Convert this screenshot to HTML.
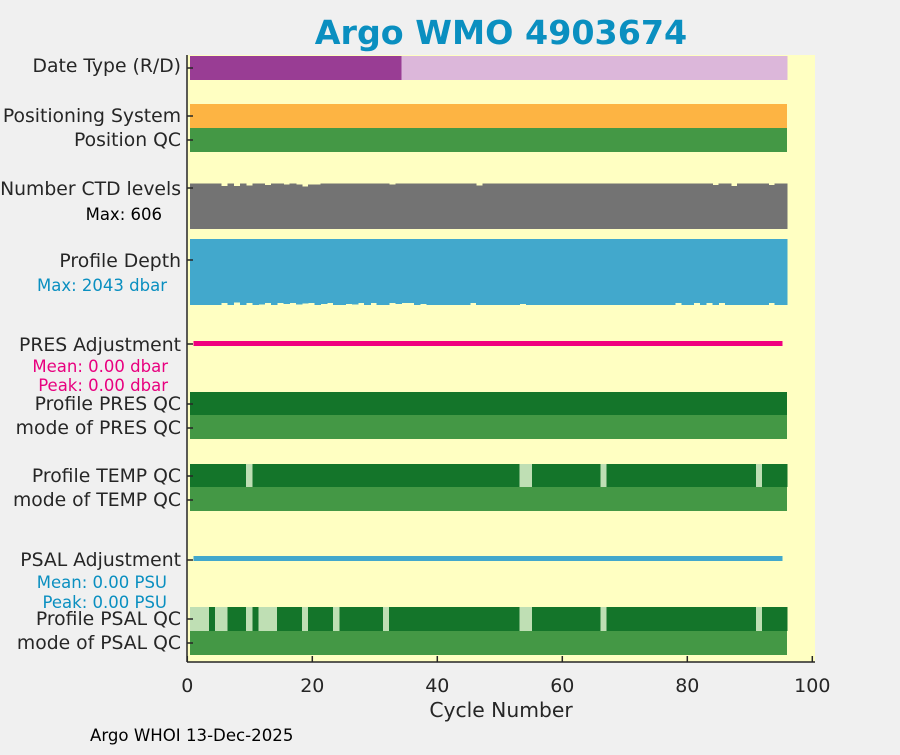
<!DOCTYPE html>
<html><head><meta charset="utf-8"><style>
body{margin:0;background:#f0f0f0;}
svg text{font-family:"DejaVu Sans","Liberation Sans",sans-serif;}
</style></head><body>
<svg id="c" width="900" height="750" xmlns="http://www.w3.org/2000/svg">
<rect x="0" y="0" width="900" height="750" fill="#f0f0f0"/>
<rect x="187" y="55" width="628" height="607" fill="#ffffc2"/>
<g id="marks" shape-rendering="crispEdges"></g>
<line x1="187" y1="55" x2="187" y2="662" stroke="#262626" stroke-width="1.5"/>
<line x1="187" y1="662" x2="815" y2="662" stroke="#262626" stroke-width="1.5"/>
<g id="ticks"></g>
<text x="501" y="44" text-anchor="middle" font-size="33.3" font-weight="bold" fill="#0a8fc0">Argo WMO 4903674</text>
<g font-size="18.8" fill="#262626" text-anchor="end">
<text x="181" y="72">Date Type (R/D)</text>
<text x="181" y="122">Positioning System</text>
<text x="181" y="146">Position QC</text>
<text x="181" y="195">Number CTD levels</text>
<text x="181" y="267">Profile Depth</text>
<text x="181" y="351">PRES Adjustment</text>
<text x="181" y="410">Profile PRES QC</text>
<text x="181" y="434">mode of PRES QC</text>
<text x="181" y="482">Profile TEMP QC</text>
<text x="181" y="506">mode of TEMP QC</text>
<text x="181" y="566">PSAL Adjustment</text>
<text x="181" y="625">Profile PSAL QC</text>
<text x="181" y="649">mode of PSAL QC</text>
</g>
<g font-size="16.5" text-anchor="end">
<text x="162" y="220" fill="#000">Max: 606</text>
<text x="167" y="291" fill="#0a8fc0">Max: 2043 dbar</text>
<text x="168" y="372" fill="#e8007f">Mean: 0.00 dbar</text>
<text x="168" y="391" fill="#e8007f">Peak: 0.00 dbar</text>
<text x="167" y="588" fill="#0a8fc0">Mean: 0.00 PSU</text>
<text x="167" y="608" fill="#0a8fc0">Peak: 0.00 PSU</text>
</g>
<text x="501" y="717" text-anchor="middle" font-size="20.3" fill="#262626">Cycle Number</text>
<text x="90" y="741" font-size="16.6" fill="#000">Argo WHOI 13-Dec-2025</text>
</svg>
<script>
const xTicks=[0,20,40,60,80,100];
const nCycles=96;
const dateDelayedCount=34;
const ctdLevels=[606,606,606,606,606,600,606,600,606,601,606,606,602,606,606,603,606,604,599,603,603,606,606,606,606,606,606,606,606,606,606,606,603,606,606,606,606,606,606,606,606,606,606,606,606,606,601,606,606,606,606,606,606,606,606,606,606,606,606,606,606,606,606,606,606,606,606,606,606,606,606,606,606,606,606,606,606,606,606,606,606,606,606,606,602,606,606,600,606,606,606,606,606,602,606,606];
const profileDepth=[2043,2043,2043,2043,2043,2020,2043,2010,2043,2020,2043,2035,2020,2043,2020,2030,2020,2035,2025,2020,2043,2030,2020,2043,2043,2030,2035,2020,2043,2020,2043,2043,2020,2030,2020,2020,2043,2030,2043,2043,2043,2043,2043,2043,2043,2020,2043,2043,2043,2043,2043,2043,2043,2030,2043,2043,2043,2043,2043,2043,2043,2043,2043,2043,2043,2043,2043,2043,2043,2043,2043,2043,2043,2043,2043,2043,2043,2043,2020,2043,2043,2020,2043,2020,2043,2020,2043,2043,2043,2043,2043,2043,2043,2020,2043,2043];
const tempQcBad=[9,53,54,66,91];
const psalQcBad=[0,1,2,4,5,9,11,12,13,18,23,31,53,54,66,91];
const tickRows=[68,116,140,188,260,344,404,428,476,500,560,619,643];
const X0=187.3,PX=6.25;
function xs(v){return X0+v*PX;}
function yCtd(v){return 183.5+(606-v)*0.4;}
function yDepth(d){return 305-(2043-d)*0.08;}
const start=0.45,cw=95.5/nCycles;
const g=document.getElementById('marks');
const NS='http://www.w3.org/2000/svg';
function rect(x,y,w,h,f){const r=document.createElementNS(NS,'rect');r.setAttribute('x',x);r.setAttribute('y',y);r.setAttribute('width',w);r.setAttribute('height',h);r.setAttribute('fill',f);g.appendChild(r);return r;}
function cx(i){return xs(start+i*cw);}
const full=xs(start+nCycles*cw)-cx(0);
let r;
for(let i=0;i<nCycles;i++){r=rect(cx(i),56,cx(i+1)-cx(i)+0.5,24,i<dateDelayedCount?'#993d94':'#dcb7da');

}
r=rect(cx(0),104,full,24,'#fdb443');


r=rect(cx(0),128,full,24,'#449845');


for(let i=0;i<nCycles;i++){const y=yCtd(ctdLevels[i]);r=rect(cx(i),y,cx(i+1)-cx(i)+0.5,229-y,'#737373');

}
for(let i=0;i<nCycles;i++){const yb=yDepth(profileDepth[i]);r=rect(cx(i),239,cx(i+1)-cx(i)+0.5,yb-239,'#42a8cc');

}
r=rect(xs(1),341,xs(95.2)-xs(1),5,'#f0007f');


r=rect(xs(1),556,xs(95.2)-xs(1),5,'#42a8cc');


r=rect(cx(0),392,full,23,'#14752a');


r=rect(cx(0),415,full,24,'#449845');


for(let i=0;i<nCycles;i++){r=rect(cx(i),464,cx(i+1)-cx(i)+0.5,23,tempQcBad.includes(i)?'#bfdfb4':'#14752a');

}
r=rect(cx(0),487,full,24,'#449845');


for(let i=0;i<nCycles;i++){r=rect(cx(i),607,cx(i+1)-cx(i)+0.5,24,psalQcBad.includes(i)?'#bfdfb4':'#14752a');

}
r=rect(cx(0),631,full,24,'#449845');


const t=document.getElementById('ticks');
xTicks.forEach(v=>{const l=document.createElementNS(NS,'line');l.setAttribute('x1',xs(v));l.setAttribute('x2',xs(v));l.setAttribute('y1',662);l.setAttribute('y2',656);l.setAttribute('stroke','#262626');l.setAttribute('stroke-width','1.5');t.appendChild(l);
const tx=document.createElementNS(NS,'text');tx.setAttribute('x',xs(v));tx.setAttribute('y',692);tx.setAttribute('text-anchor','middle');tx.setAttribute('font-size','19');tx.setAttribute('fill','#262626');tx.textContent=v;


t.appendChild(tx);});
tickRows.forEach(y=>{const l=document.createElementNS(NS,'line');l.setAttribute('x1',187);l.setAttribute('x2',193);l.setAttribute('y1',y);l.setAttribute('y2',y);l.setAttribute('stroke','#262626');l.setAttribute('stroke-width','1.5');t.appendChild(l);});
</script>
</body></html>
